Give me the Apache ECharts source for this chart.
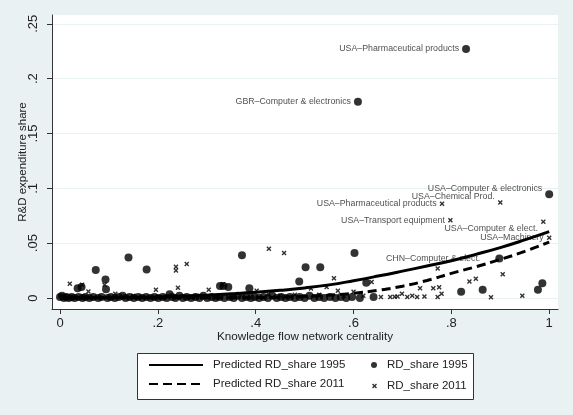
<!DOCTYPE html>
<html>
<head>
<meta charset="utf-8">
<script src="https://cdn.jsdelivr.net/npm/echarts@6/dist/echarts.min.js"></script>
<style>
  html, body { margin: 0; padding: 0; background: #eaf1f3; }
  #chart { width: 573px; height: 415px; }
</style>
</head>
<body>
<div id="chart"></div>
<script>
// tick values / labels
const xTickValues = [0, 0.2, 0.4, 0.6, 0.8, 1];
const xTickLabels = ['0', '.2', '.4', '.6', '.8', '1'];
const yTickValues = [0, 0.05, 0.1, 0.15, 0.2, 0.25];
const yTickLabels = ['0', '.05', '.1', '.15', '.2', '.25'];

// fitted curves
const fitX    = [0, 0.05, 0.1, 0.15, 0.2, 0.25, 0.3, 0.35, 0.4, 0.45, 0.5, 0.55, 0.6, 0.65, 0.7, 0.75, 0.8, 0.85, 0.9, 0.95, 1];
const fit1995 = [0.0002, 0.0003, 0.0004, 0.0006, 0.0010, 0.0016, 0.0026, 0.0038, 0.0052, 0.0070, 0.0092, 0.0120, 0.0158, 0.0200, 0.0245, 0.0292, 0.0340, 0.0398, 0.0460, 0.0530, 0.0605];
const fit2011 = [0.0002, 0.0002, 0.0002, 0.0002, 0.0002, 0.0002, 0.0002, 0.0002, 0.0004, 0.0008, 0.0015, 0.0026, 0.0043, 0.0070, 0.0108, 0.0160, 0.0225, 0.0285, 0.0352, 0.0425, 0.0510];

// observed RD_share 1995 (unlabelled)
const dots1995 = [
  [0.036, 0.009], [0.044, 0.010], [0.073, 0.0255], [0.093, 0.017], [0.094, 0.008], [0.140, 0.037], [0.177, 0.026], [0.224, 0.0034],
  [0.327, 0.011], [0.334, 0.011], [0.344, 0.010], [0.372, 0.039], [0.387, 0.009], [0.489, 0.015], [0.502, 0.028], [0.532, 0.028],
  [0.602, 0.041], [0.626, 0.014], [0.613, 0.0], [0.641, 0.001], [0.820, 0.0058], [0.864, 0.0075], [0.977, 0.0075], [0.986, 0.0134],
  [0.000, 0.001], [0.004, 0.002], [0.008, 0.000], [0.013, 0.001], [0.018, 0.000], [0.024, 0.001], [0.030, 0.000], [0.038, 0.001],
  [0.046, 0.000], [0.052, 0.001], [0.060, 0.000], [0.068, 0.001], [0.078, 0.000], [0.085, 0.001], [0.097, 0.000], [0.104, 0.001],
  [0.112, 0.000], [0.120, 0.001], [0.128, 0.002], [0.134, 0.000], [0.142, 0.001], [0.151, 0.000], [0.160, 0.001], [0.168, 0.000],
  [0.176, 0.001], [0.185, 0.000], [0.193, 0.001], [0.201, 0.000], [0.210, 0.001], [0.218, 0.000], [0.229, 0.001], [0.236, 0.000],
  [0.244, 0.002], [0.251, 0.000], [0.259, 0.001], [0.268, 0.000], [0.277, 0.001], [0.285, 0.000], [0.293, 0.002], [0.301, 0.000],
  [0.310, 0.001], [0.318, 0.000], [0.326, 0.001], [0.336, 0.000], [0.347, 0.001], [0.355, 0.000], [0.363, 0.002], [0.372, 0.000],
  [0.381, 0.001], [0.390, 0.000], [0.398, 0.001], [0.407, 0.000], [0.416, 0.001], [0.425, 0.000], [0.434, 0.002], [0.443, 0.000],
  [0.452, 0.001], [0.461, 0.000], [0.470, 0.001], [0.480, 0.000], [0.490, 0.001], [0.500, 0.000], [0.510, 0.002], [0.520, 0.000],
  [0.530, 0.001], [0.540, 0.000], [0.552, 0.001], [0.563, 0.000], [0.574, 0.001], [0.585, 0.000], [0.597, 0.001]
];

// observed RD_share 2011 (unlabelled)
const crosses2011 = [
  [0.020, 0.013], [0.045, 0.012], [0.058, 0.006], [0.091, 0.012], [0.113, 0.004], [0.196, 0.0075], [0.237, 0.0286], [0.237, 0.025],
  [0.241, 0.0094], [0.259, 0.031], [0.304, 0.0075], [0.333, 0.0125], [0.402, 0.0066], [0.426, 0.0034], [0.427, 0.045], [0.458, 0.041],
  [0.513, 0.0088], [0.545, 0.010], [0.560, 0.018], [0.568, 0.0067], [0.600, 0.0058], [0.637, 0.0146], [0.656, 0.001], [0.675, 0.001],
  [0.684, 0.0012], [0.690, 0.0015], [0.699, 0.004], [0.710, 0.001], [0.720, 0.002], [0.730, 0.001], [0.736, 0.009], [0.745, 0.0015],
  [0.763, 0.009], [0.772, 0.027], [0.775, 0.0098], [0.780, 0.004], [0.772, 0.001], [0.837, 0.015], [0.850, 0.0175], [0.881, 0.0008],
  [0.905, 0.0216], [0.945, 0.002], [0.010, 0.002], [0.050, 0.001], [0.150, 0.002], [0.200, 0.001], [0.280, 0.002], [0.350, 0.001],
  [0.450, 0.002], [0.480, 0.003], [0.530, 0.003], [0.580, 0.002], [0.620, 0.002]
];

// labelled observations
const labelNames1995 = ['USA–Pharmaceutical products', 'GBR–Computer & electronics', 'USA–Computer & electronics', 'CHN–Computer & elect.'];
const labelPts1995   = [[0.830, 0.227], [0.609, 0.179], [1.0, 0.0946], [0.898, 0.036]];
const labelNames2011 = ['USA–Pharmaceutical products', 'USA–Chemical Prod.', 'USA–Transport equipment', 'USA–Computer & elect.', 'USA–Machinery'];
const labelPts2011   = [[0.781, 0.086], [0.900, 0.087], [0.798, 0.071], [0.988, 0.0696], [1.0, 0.055]];

const seriesNames = ['Predicted RD_share 1995', 'RD_share 1995', 'Predicted RD_share 2011', 'RD_share 2011'];

// label nudges (px)
const labelShift1995 = [[0, 0], [0, 0], [0, -6], [-12, 0]];
const labelShift2011 = [[0, 0], [0, -6], [0, 0], [0, 7], [0, 0]];

const FONT = '"Liberation Sans", Arial, sans-serif';
const INK = '#222';
const CROSS = 'path://M0,2L2,0L5,3L8,0L10,2L7,5L10,8L8,10L5,7L2,10L0,8L3,5Z';

function tickLabel(values, labels) {
  return function (v) {
    for (let i = 0; i < values.length; i++) {
      if (Math.abs(values[i] - v) < 1e-9) return labels[i];
    }
    return '';
  };
}

function labelled(names, pts, shifts) {
  return pts.map((p, i) => ({
    value: p,
    label: {
      show: true,
      formatter: names[i],
      position: 'left',
      distance: 3,
      offset: shifts[i],
      fontSize: 8.8,
      fontFamily: FONT,
      color: INK
    }
  }));
}

let chart = echarts.init(document.getElementById('chart'));
chart.setOption({
  animation: false,
  backgroundColor: '#eaf1f3',
  grid: {
    left: 52, top: 15, right: 15, bottom: 106,
    show: true, backgroundColor: '#fff', borderWidth: 0
  },
  xAxis: {
    type: 'value',
    min: -0.0164, max: 1.018,
    name: 'Knowledge flow network centrality',
    nameLocation: 'middle',
    nameMoveOverlap: false,
    nameGap: 22,
    nameTextStyle: { fontSize: 11.7, fontFamily: FONT, color: INK },
    axisLine: { show: true, onZero: false, lineStyle: { color: '#333', width: 1 } },
    axisTick: { show: true, length: 5, customValues: xTickValues, lineStyle: { color: '#333' } },
    axisLabel: {
      customValues: xTickValues,
      formatter: tickLabel(xTickValues, xTickLabels),
      fontSize: 13, fontFamily: FONT, color: INK, margin: 8
    },
    splitLine: { show: false }
  },
  yAxis: {
    type: 'value',
    min: -0.01, max: 0.258,
    name: 'R&D expenditure share',
    nameLocation: 'middle',
    nameMoveOverlap: false,
    nameGap: 23,
    nameTextStyle: { fontSize: 11.5, fontFamily: FONT, color: INK },
    axisLine: { show: true, onZero: false, lineStyle: { color: '#333', width: 1 } },
    axisTick: { show: true, length: 5, customValues: yTickValues, lineStyle: { color: '#333' } },
    axisLabel: {
      customValues: yTickValues,
      formatter: tickLabel(yTickValues, yTickLabels),
      rotate: 90,
      fontSize: 13, fontFamily: FONT, color: INK, margin: 12
    },
    splitLine: { show: true, lineStyle: { color: '#eaf1f3', width: 1 } }
  },
  legend: [
    {
      left: 143, top: 354, orient: 'vertical',
      itemWidth: 54, itemHeight: 14, itemGap: 7,
      selectedMode: false,
      itemStyle: { opacity: 0 },
      data: [seriesNames[0], seriesNames[2]],
      textStyle: { fontSize: 11.5, fontFamily: FONT, color: INK, padding: [0, 0, 0, 5] }
    },
    {
      left: 366, top: 354,
      itemWidth: 6, itemHeight: 6,
      selectedMode: false,
      data: [seriesNames[1]],
      textStyle: { fontSize: 11.5, fontFamily: FONT, color: INK, padding: [0, 0, 0, 5] }
    },
    {
      left: 367, top: 375,
      itemWidth: 5, itemHeight: 5,
      selectedMode: false,
      data: [{ name: seriesNames[3], icon: CROSS }],
      textStyle: { fontSize: 11.5, fontFamily: FONT, color: INK, padding: [0, 0, 0, 5] }
    }
  ],
  graphic: [{
    type: 'rect', z: 0,
    shape: { x: 137.5, y: 353.5, width: 336, height: 46 },
    style: { fill: '#fff', stroke: '#333', lineWidth: 1 }
  }],
  series: [
    {
      name: seriesNames[1], type: 'scatter',
      symbol: 'circle', symbolSize: 8,
      itemStyle: { color: '#000' },
      data: dots1995.concat(labelled(labelNames1995, labelPts1995, labelShift1995))
    },
    {
      name: seriesNames[3], type: 'scatter',
      symbol: CROSS, symbolSize: 5,
      itemStyle: { color: '#000' },
      data: crosses2011.concat(labelled(labelNames2011, labelPts2011, labelShift2011))
    },
    {
      name: seriesNames[0], type: 'line', smooth: true, symbol: 'none',
      itemStyle: { color: '#000' },
      lineStyle: { color: '#000', width: 3, type: 'solid' },
      data: fitX.map((x, i) => [x, fit1995[i]])
    },
    {
      name: seriesNames[2], type: 'line', smooth: true, symbol: 'none',
      itemStyle: { color: '#000' },
      lineStyle: { color: '#000', width: 3, type: [9, 5] },
      data: fitX.map((x, i) => [x, fit2011[i]])
    }
  ]
});
</script>
</body>
</html>
